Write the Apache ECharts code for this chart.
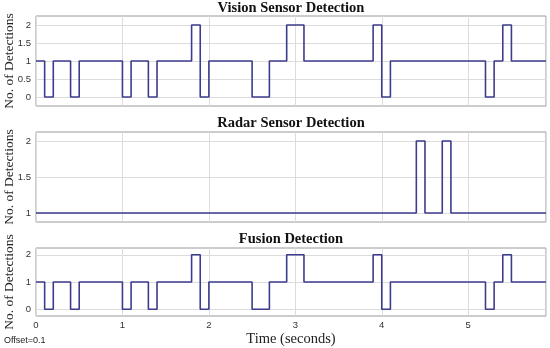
<!DOCTYPE html>
<html>
<head>
<meta charset="utf-8">
<script src="https://cdn.jsdelivr.net/npm/echarts@6/dist/echarts.min.js"></script>
<style>html,body{margin:0;padding:0;background:#fff}#c{width:550px;height:348px}</style>
</head>
<body>
<div id="c"></div>
<script>
// Step transitions: value holds from each time until the next time
const visionTimes = [0, 0.1, 0.2, 0.4, 0.5, 1.0, 1.1, 1.3, 1.4, 1.8, 1.9, 2.0, 2.5, 2.7, 2.9, 3.1, 3.9, 4.0, 4.1, 5.2, 5.3, 5.4, 5.5, 5.9];
const visionValues = [1, 0, 1, 0, 1, 0, 1, 0, 1, 2, 0, 1, 0, 1, 2, 1, 2, 0, 1, 0, 1, 2, 1, 1];
const radarTimes = [0, 4.4, 4.5, 4.7, 4.8, 5.9];
const radarValues = [1, 2, 1, 2, 1, 1];
const fusionTimes = [0, 0.1, 0.2, 0.4, 0.5, 1.0, 1.1, 1.3, 1.4, 1.8, 1.9, 2.0, 2.5, 2.7, 2.9, 3.1, 3.9, 4.0, 4.1, 5.2, 5.3, 5.4, 5.5, 5.9];
const fusionValues = [1, 0, 1, 0, 1, 0, 1, 0, 1, 2, 0, 1, 0, 1, 2, 1, 2, 0, 1, 0, 1, 2, 1, 1];
const titles = ['Vision Sensor Detection', 'Radar Sensor Detection', 'Fusion Detection'];
const xTicks = [0, 1, 2, 3, 4, 5];
const yName = 'No. of Detections';
const xName = 'Time (seconds)';
const note = 'Offset=0.1';

const pair = (t, v) => t.map((x, i) => [x, v[i]]);
const LINE = '#3c3c8e';
const GRIDC = '#dcdcdc';
const T = 'rgba(0,0,0,0)';
const serif = '"Liberation Serif", "DejaVu Serif", serif';
const sans = '"Liberation Sans", Arial, sans-serif';

const grids = [
  {left: 36, right: 4, top: 16, height: 90},
  {left: 36, right: 4, top: 132, height: 90},
  {left: 36, right: 4, top: 248, height: 68}
].map(g => Object.assign(g, {show: true, borderColor: '#9a9a9a', borderWidth: 1, backgroundColor: '#fff',
  containLabel: false, outerBoundsMode: 'none'}));

function xAxis(i) {
  const last = i === 2;
  return {
    type: 'value', gridIndex: i, min: 0, max: 5.9, interval: 1,
    axisLine: {show: false}, axisTick: {show: false},
    axisLabel: {show: last, color: '#333', fontFamily: sans, fontSize: 9.5, margin: 4,
      formatter: v => xTicks.includes(v) ? String(v) : ''},
    splitLine: {show: true, lineStyle: {color: GRIDC, width: 1}},
    name: last ? xName : '', nameLocation: 'middle', nameGap: 16, nameMoveOverlap: false,
    nameTextStyle: {fontFamily: serif, fontSize: 14.5, color: '#222'}
  };
}
function yAxis(i, min, max, interval, shown, colors) {
  return {
    type: 'value', gridIndex: i, min: min, max: max, interval: interval,
    axisLine: {show: false}, axisTick: {show: false},
    axisLabel: {color: '#333', fontFamily: sans, fontSize: 9.5, margin: 5,
      formatter: v => shown.some(s => Math.abs(s - v) < 1e-9) ? String(v) : ''},
    splitLine: {show: true, lineStyle: {color: colors, width: 1}},
    name: yName, nameLocation: 'middle', nameGap: 20, nameMoveOverlap: false,
    nameTextStyle: {fontFamily: serif, fontSize: 13.5, color: '#222'}
  };
}

const option = {
  animation: false,
  backgroundColor: '#fff',
  title: titles.map((t, i) => ({
    text: t, left: 291, textAlign: 'center', top: [1, 116, 232][i], padding: 0,
    textStyle: {fontFamily: serif, fontWeight: 'bold', fontSize: 14.5, color: '#111'}
  })),
  grid: grids,
  xAxis: [xAxis(0), xAxis(1), xAxis(2)],
  yAxis: [
    yAxis(0, -0.25, 2.25, 0.25, [0, 0.5, 1, 1.5, 2], [T, GRIDC]),
    yAxis(1, 0.875, 2.125, 0.125, [1, 1.5, 2], [T, GRIDC, T, T]),
    yAxis(2, -0.25, 2.25, 0.25, [0, 1, 2], [T, GRIDC, T, T])
  ],
  series: [
    {type: 'line', xAxisIndex: 0, yAxisIndex: 0, data: pair(visionTimes, visionValues)},
    {type: 'line', xAxisIndex: 1, yAxisIndex: 1, data: pair(radarTimes, radarValues)},
    {type: 'line', xAxisIndex: 2, yAxisIndex: 2, data: pair(fusionTimes, fusionValues)}
  ].map(s => Object.assign(s, {step: 'end', showSymbol: false, symbol: 'none',
    lineStyle: {color: LINE, width: 1.6}, itemStyle: {color: LINE}})),
  graphic: [{type: 'text', left: 4, top: 336,
    style: {text: note, font: '9px ' + sans, fill: '#222'}}]
};
echarts.init(document.getElementById('c'), null, {renderer: 'canvas'}).setOption(option);
</script>
</body>
</html>
